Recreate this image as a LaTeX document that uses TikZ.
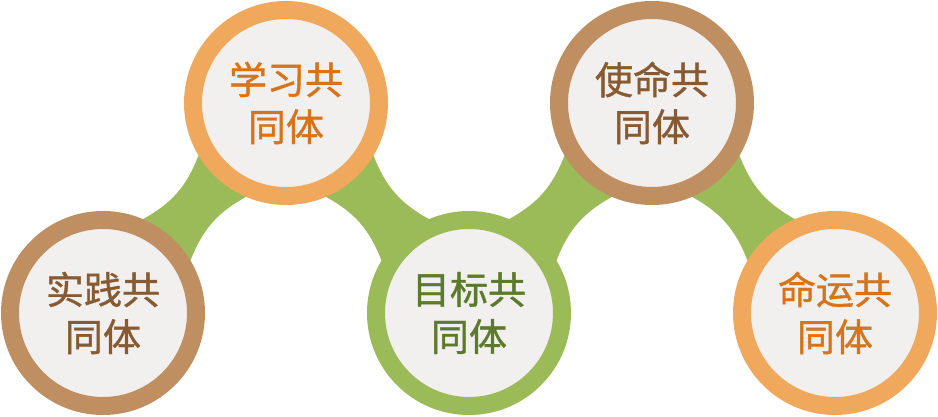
\documentclass[tikz,border=0pt]{standalone}
\usepackage{fontspec}
\newfontfamily\cjk[FakeBold=1]{Noto Sans CJK SC}
\usepackage{tikz}
\usetikzlibrary{positioning,calc,backgrounds}
\definecolor{ringfill}{RGB}{242,239,239}
\definecolor{ringbrown}{RGB}{191,143,98}
\definecolor{ringorange}{RGB}{240,169,92}
\definecolor{ringgreen}{RGB}{155,187,89}
\definecolor{txtbrown}{RGB}{135,90,50}
\definecolor{txtorange}{RGB}{214,116,28}
\definecolor{txtgreen}{RGB}{92,122,44}
\tikzset{
  ring/.style={circle, draw, line width=18pt, minimum size=186pt, inner sep=0pt, fill=ringfill, align=center, font=\cjk\fontsize{38}{47}\selectfont},
  brownring/.style={ring, draw=ringbrown, text=txtbrown},
  orangering/.style={ring, draw=ringorange, text=txtorange},
  greenring/.style={ring, draw=ringgreen, text=txtgreen},
  bridge/.style={fill=ringgreen},
}

\begin{document}
\begin{tikzpicture}[x=1pt, y=1pt, on grid, node distance=210pt and 183pt]
  \useasboundingbox (0,0) rectangle (938,416);
  % nodes
  \node[brownring] (shijian) at (103,103) {实践共\\同体};
  \node[orangering, above right=of shijian] (xuexi) {学习共\\同体};
  \node[greenring, below right=of xuexi] (mubiao) {目标共\\同体};
  \node[brownring, above right=of mubiao] (shiming) {使命共\\同体};
  \node[orangering, below right=of shiming] (mingyun) {命运共\\同体};

  % connections (green bridges behind the rings)
  \begin{scope}[on background layer]
    \foreach \a/\b in {shijian/xuexi, xuexi/mubiao, mubiao/shiming, shiming/mingyun}
      \fill[bridge] (\a.center) -- ($(\a.center)!102pt!18:(\b.center)$)
        to[bend right=20] ($(\b.center)!102pt!-18:(\a.center)$) -- (\b.center)
        -- ($(\b.center)!102pt!18:(\a.center)$)
        to[bend right=20] ($(\a.center)!102pt!-18:(\b.center)$) -- cycle;
  \end{scope}
\end{tikzpicture}
\end{document}
